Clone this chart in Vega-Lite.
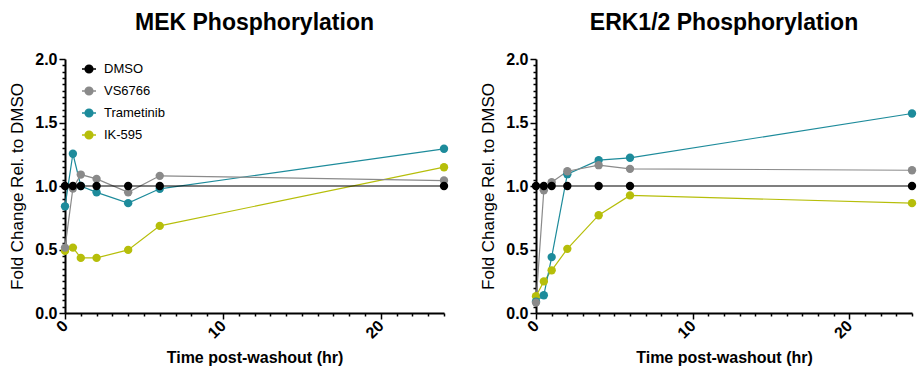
{
  "$schema": "https://vega.github.io/schema/vega-lite/v6.json",
  "padding": {"left": 8, "top": 12, "right": 2, "bottom": 2},
  "background": "white",
  "spacing": 29,
  "config": {
    "view": {"stroke": null},
    "font": "Liberation Sans",
    "axis": {
      "domainColor": "black",
      "domainWidth": 2,
      "tickColor": "black",
      "tickWidth": 1.5,
      "labelColor": "black",
      "labelFont": "Liberation Sans",
      "labelFontSize": 16,
      "labelFontWeight": "bold",
      "titleColor": "black",
      "titleFont": "Liberation Sans",
      "titleFontSize": 16,
      "titleFontWeight": "bold",
      "grid": false,
      "labelOverlap": false
    },
    "title": {"font": "Liberation Sans", "fontSize": 23, "fontWeight": "bold", "color": "black", "anchor": "middle", "offset": 16},
    "legend": {"labelFont": "Liberation Sans", "labelFontSize": 13, "labelColor": "black"}
  },
  "datasets": {
    "mek": [
      {"series": "IK-595", "time": 0, "value": 0.489},
      {"series": "IK-595", "time": 0.5, "value": 0.515},
      {"series": "IK-595", "time": 1, "value": 0.434},
      {"series": "IK-595", "time": 2, "value": 0.434},
      {"series": "IK-595", "time": 4, "value": 0.497},
      {"series": "IK-595", "time": 6, "value": 0.686},
      {"series": "IK-595", "time": 24, "value": 1.148},
      {"series": "Trametinib", "time": 0, "value": 0.84},
      {"series": "Trametinib", "time": 0.5, "value": 1.254},
      {"series": "Trametinib", "time": 1, "value": 1.0},
      {"series": "Trametinib", "time": 2, "value": 0.95},
      {"series": "Trametinib", "time": 4, "value": 0.865},
      {"series": "Trametinib", "time": 6, "value": 0.978},
      {"series": "Trametinib", "time": 24, "value": 1.293},
      {"series": "VS6766", "time": 0, "value": 0.515},
      {"series": "VS6766", "time": 0.5, "value": 0.98},
      {"series": "VS6766", "time": 1, "value": 1.09},
      {"series": "VS6766", "time": 2, "value": 1.056},
      {"series": "VS6766", "time": 4, "value": 0.95},
      {"series": "VS6766", "time": 6, "value": 1.08},
      {"series": "VS6766", "time": 24, "value": 1.043},
      {"series": "DMSO", "time": 0, "value": 1.0},
      {"series": "DMSO", "time": 0.5, "value": 1.0},
      {"series": "DMSO", "time": 1, "value": 1.0},
      {"series": "DMSO", "time": 2, "value": 1.0},
      {"series": "DMSO", "time": 4, "value": 1.0},
      {"series": "DMSO", "time": 6, "value": 1.0},
      {"series": "DMSO", "time": 24, "value": 1.0}
    ],
    "erk": [
      {"series": "IK-595", "time": 0, "value": 0.132},
      {"series": "IK-595", "time": 0.5, "value": 0.249},
      {"series": "IK-595", "time": 1, "value": 0.336},
      {"series": "IK-595", "time": 2, "value": 0.505},
      {"series": "IK-595", "time": 4, "value": 0.77},
      {"series": "IK-595", "time": 6, "value": 0.926},
      {"series": "IK-595", "time": 24, "value": 0.865},
      {"series": "Trametinib", "time": 0, "value": 0.09},
      {"series": "Trametinib", "time": 0.5, "value": 0.14},
      {"series": "Trametinib", "time": 1, "value": 0.44},
      {"series": "Trametinib", "time": 2, "value": 1.093},
      {"series": "Trametinib", "time": 4, "value": 1.204},
      {"series": "Trametinib", "time": 6, "value": 1.222},
      {"series": "Trametinib", "time": 24, "value": 1.571},
      {"series": "VS6766", "time": 0, "value": 0.082},
      {"series": "VS6766", "time": 0.5, "value": 0.966},
      {"series": "VS6766", "time": 1, "value": 1.03},
      {"series": "VS6766", "time": 2, "value": 1.116},
      {"series": "VS6766", "time": 4, "value": 1.164},
      {"series": "VS6766", "time": 6, "value": 1.135},
      {"series": "VS6766", "time": 24, "value": 1.124},
      {"series": "DMSO", "time": 0, "value": 1.0},
      {"series": "DMSO", "time": 0.5, "value": 1.0},
      {"series": "DMSO", "time": 1, "value": 1.0},
      {"series": "DMSO", "time": 2, "value": 1.0},
      {"series": "DMSO", "time": 4, "value": 1.0},
      {"series": "DMSO", "time": 6, "value": 1.0},
      {"series": "DMSO", "time": 24, "value": 1.0}
    ]
  },
  "resolve": {"scale": {"color": "independent"}},
  "hconcat": [
    {
      "title": "MEK Phosphorylation",
      "width": 379,
      "height": 254,
      "data": {"name": "mek"},
      "encoding": {
        "x": {
          "field": "time", "type": "quantitative",
          "scale": {"domain": [0, 24], "nice": false, "zero": false},
          "axis": {
            "title": "Time post-washout (hr)",
            "values": [0,1,2,3,4,5,6,7,8,9,10,11,12,13,14,15,16,17,18,19,20,21,22,23,24],
            "labelExpr": "datum.value % 10 == 0 ? datum.label : ''",
            "tickSize": {"condition": {"test": "datum.value % 10 == 0", "value": 6}, "value": 3},
            "labelAngle": -45, "labelAlign": "right", "labelBaseline": "middle", "labelPadding": 4,
            "titlePadding": 8
          }
        },
        "y": {
          "field": "value", "type": "quantitative",
          "scale": {"domain": [0, 2], "nice": false},
          "axis": {
            "title": "Fold Change Rel. to DMSO",
            "titleFontWeight": "normal", "titleFontSize": 17,
            "values": [0,0.05,0.1,0.15,0.2,0.25,0.3,0.35,0.4,0.45,0.5,0.55,0.6,0.65,0.7,0.75,0.8,0.85,0.9,0.95,1,1.05,1.1,1.15,1.2,1.25,1.3,1.35,1.4,1.45,1.5,1.55,1.6,1.65,1.7,1.75,1.8,1.85,1.9,1.95,2],
            "labelExpr": "abs(round(datum.value*2) - datum.value*2) < 0.001 ? format(datum.value, '.1f') : ''",
            "tickSize": {"condition": {"test": "abs(round(datum.value*2) - datum.value*2) < 0.001", "value": 6}, "value": 3},
            "labelPadding": 2,
            "titlePadding": 8
          }
        },
        "color": {
          "field": "series", "type": "nominal",
          "scale": {"domain": ["DMSO", "VS6766", "Trametinib", "IK-595"], "range": ["#000000", "#8a8a8a", "#1d8b9b", "#b6be0a"]},
          "legend": {
            "title": null, "orient": "none", "legendX": 16, "legendY": 2, "padding": 0,
            "symbolType": "M-1,0L1,0M0.55,0A0.55,0.55 0 1 1 -0.55,0A0.55,0.55 0 1 1 0.55,0Z",
            "symbolSize": 196, "symbolStrokeWidth": 1.5, "rowPadding": 7, "labelOffset": 7,
            "encode": {"symbols": {"update": {"stroke": {"scale": "color", "field": "value"}, "strokeWidth": {"value": 1.5}}}}
          }
        }
      },
      "layer": [
        {"mark": {"type": "line", "strokeWidth": 1.2}, "encoding": {"detail": {"field": "series"}}},
        {"mark": {"type": "point", "filled": true, "opacity": 1, "size": 70}}
      ]
    },
    {
      "title": "ERK1/2 Phosphorylation",
      "width": 376,
      "height": 254,
      "data": {"name": "erk"},
      "encoding": {
        "x": {
          "field": "time", "type": "quantitative",
          "scale": {"domain": [0, 24], "nice": false, "zero": false},
          "axis": {
            "title": "Time post-washout (hr)",
            "values": [0,1,2,3,4,5,6,7,8,9,10,11,12,13,14,15,16,17,18,19,20,21,22,23,24],
            "labelExpr": "datum.value % 10 == 0 ? datum.label : ''",
            "tickSize": {"condition": {"test": "datum.value % 10 == 0", "value": 6}, "value": 3},
            "labelAngle": -45, "labelAlign": "right", "labelBaseline": "middle", "labelPadding": 4,
            "titlePadding": 8
          }
        },
        "y": {
          "field": "value", "type": "quantitative",
          "scale": {"domain": [0, 2], "nice": false},
          "axis": {
            "title": "Fold Change Rel. to DMSO",
            "titleFontWeight": "normal", "titleFontSize": 17,
            "values": [0,0.05,0.1,0.15,0.2,0.25,0.3,0.35,0.4,0.45,0.5,0.55,0.6,0.65,0.7,0.75,0.8,0.85,0.9,0.95,1,1.05,1.1,1.15,1.2,1.25,1.3,1.35,1.4,1.45,1.5,1.55,1.6,1.65,1.7,1.75,1.8,1.85,1.9,1.95,2],
            "labelExpr": "abs(round(datum.value*2) - datum.value*2) < 0.001 ? format(datum.value, '.1f') : ''",
            "tickSize": {"condition": {"test": "abs(round(datum.value*2) - datum.value*2) < 0.001", "value": 6}, "value": 3},
            "labelPadding": 2,
            "titlePadding": 8
          }
        },
        "color": {
          "field": "series", "type": "nominal",
          "scale": {"domain": ["DMSO", "VS6766", "Trametinib", "IK-595"], "range": ["#000000", "#8a8a8a", "#1d8b9b", "#b6be0a"]},
          "legend": null
        }
      },
      "layer": [
        {"mark": {"type": "line", "strokeWidth": 1.2}, "encoding": {"detail": {"field": "series"}}},
        {"mark": {"type": "point", "filled": true, "opacity": 1, "size": 70}}
      ]
    }
  ]
}
